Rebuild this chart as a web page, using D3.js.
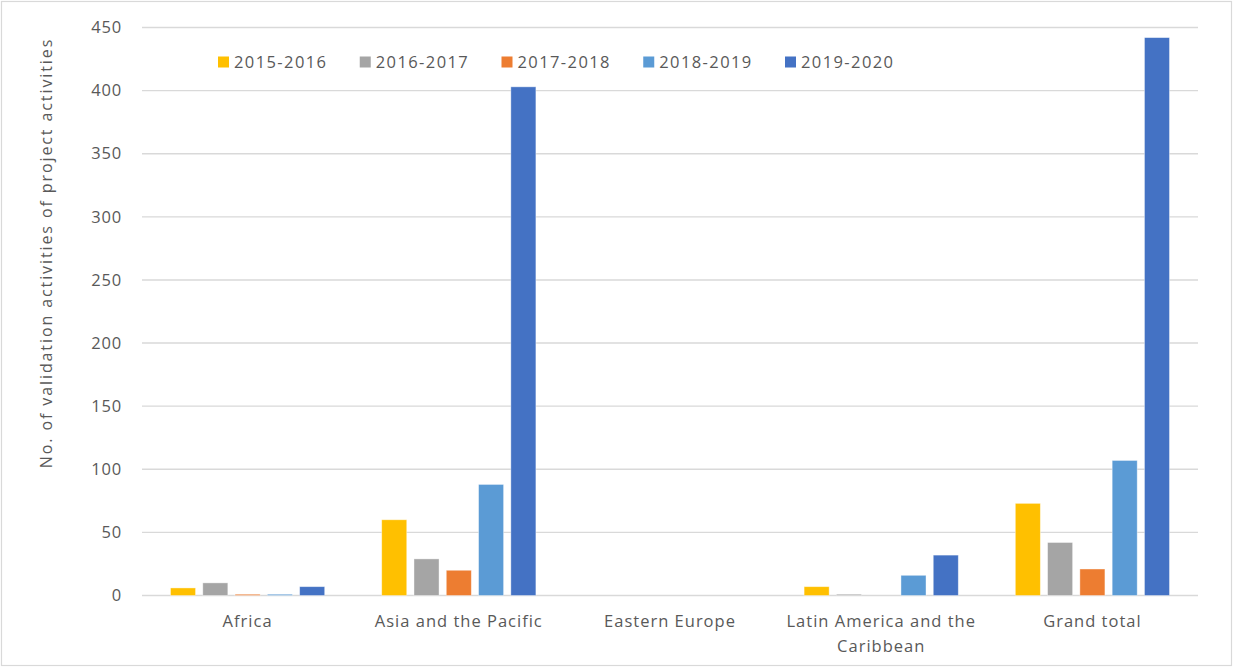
<!DOCTYPE html>
<html><head><meta charset="utf-8">
<script src="https://cdn.jsdelivr.net/npm/d3@7"></script>
<style>
html,body{margin:0;padding:0;background:#fff;}
text{font-family:"Open Sans",sans-serif;fill:#595959;}
</style></head>
<body>
<svg id="chart" width="1234" height="668"></svg>
<script>
const categories = ["Africa","Asia and the Pacific","Eastern Europe","Latin America and the Caribbean","Grand total"];
const seriesNames = ["2015-2016","2016-2017","2017-2018","2018-2019","2019-2020"];
const s2015 = [6, 60, 0, 7, 73];
const s2016 = [10, 29, 0, 1, 42];
const s2017 = [1, 20, 0, 0, 21];
const s2018 = [1, 88, 0, 16, 107];
const s2019 = [7, 403, 0, 32, 442];
const yTicks = [0,50,100,150,200,250,300,350,400,450];
const seriesColors = ["#FFC000","#A5A5A5","#ED7D31","#5B9BD5","#4472C4"];
const yTitle = "No. of validation activities of project activities";

const seriesValues = [s2015, s2016, s2017, s2018, s2019];
const svg = d3.select("#chart");

svg.append("rect").attr("x",1.5).attr("y",1.5).attr("width",1230).attr("height",664)
  .attr("fill","#fff").attr("stroke","#d9d9d9").attr("stroke-width",1.2);

const y = d3.scaleLinear().domain([0,450]).range([595.5,27.5]);
const x0 = d3.scaleBand().domain(categories).range([142,1198]).padding(0);
const x1 = d3.scaleBand().domain(seriesNames).range([28.5, x0.bandwidth()-28.5]).paddingInner(0.224).paddingOuter(0);

// gridlines
svg.append("g").selectAll("line").data(yTicks).join("line")
  .attr("x1",142).attr("x2",1198)
  .attr("y1",d=>y(d)).attr("y2",d=>y(d))
  .attr("stroke","#d9d9d9").attr("stroke-width",1.4);

// y tick labels
svg.append("g").selectAll("text").data(yTicks).join("text")
  .attr("x",122).attr("y",d=>y(d)).attr("dy","0.35em")
  .attr("text-anchor","end").attr("font-size",16.5).attr("letter-spacing",0.8)
  .text(d=>d);

// bars
const groups = svg.append("g").selectAll("g").data(categories).join("g")
  .attr("transform",c=>`translate(${x0(c)},0)`);
groups.selectAll("rect").data((c,ci)=>seriesNames.map((s,si)=>({s,si,v:seriesValues[si][ci]})))
  .join("rect")
  .filter(d=>d.v>0)
  .attr("x",d=>x1(d.s)).attr("width",x1.bandwidth())
  .attr("y",d=>y(d.v)).attr("height",d=>y(0)-y(d.v))
  .attr("fill",d=>seriesColors[d.si])
  .attr("stroke","#fff").attr("stroke-opacity",0.5).attr("stroke-width",0.8);

// category labels with wrapping
const catG = svg.append("g");
categories.forEach(c=>{
  const t = catG.append("text").attr("text-anchor","middle")
    .attr("font-size",16.5).attr("letter-spacing",1.0)
    .attr("x",x0(c)+x0.bandwidth()/2).attr("y",627);
  const words = c.split(" ");
  let line = [], lines = [];
  const tmp = t.append("tspan");
  words.forEach(w=>{
    line.push(w);
    tmp.text(line.join(" "));
    if (tmp.node().getComputedTextLength() > 200 && line.length>1){
      line.pop(); lines.push(line.join(" ")); line=[w];
    }
  });
  lines.push(line.join(" "));
  tmp.remove();
  lines.forEach((l,i)=>{
    t.append("tspan").attr("x",x0(c)+x0.bandwidth()/2).attr("dy",i===0?0:25).text(l);
  });
});

// y axis title
svg.append("text").attr("transform","translate(52,253) rotate(-90)")
  .attr("text-anchor","middle").attr("font-size",16).attr("letter-spacing",1.9)
  .text(yTitle);

// legend
const legendX = d3.scalePoint().domain(seriesNames).range([218,785]);
const leg = svg.append("g").selectAll("g").data(seriesNames).join("g")
  .attr("transform",d=>`translate(${legendX(d)},62)`);
leg.append("rect").attr("x",0).attr("y",-5.5).attr("width",11).attr("height",11)
  .attr("fill",(d,i)=>seriesColors[i]);
leg.append("text").attr("x",16).attr("dy","0.35em").attr("font-size",16.5).attr("letter-spacing",1.4)
  .text(d=>d);
</script>
</body></html>
